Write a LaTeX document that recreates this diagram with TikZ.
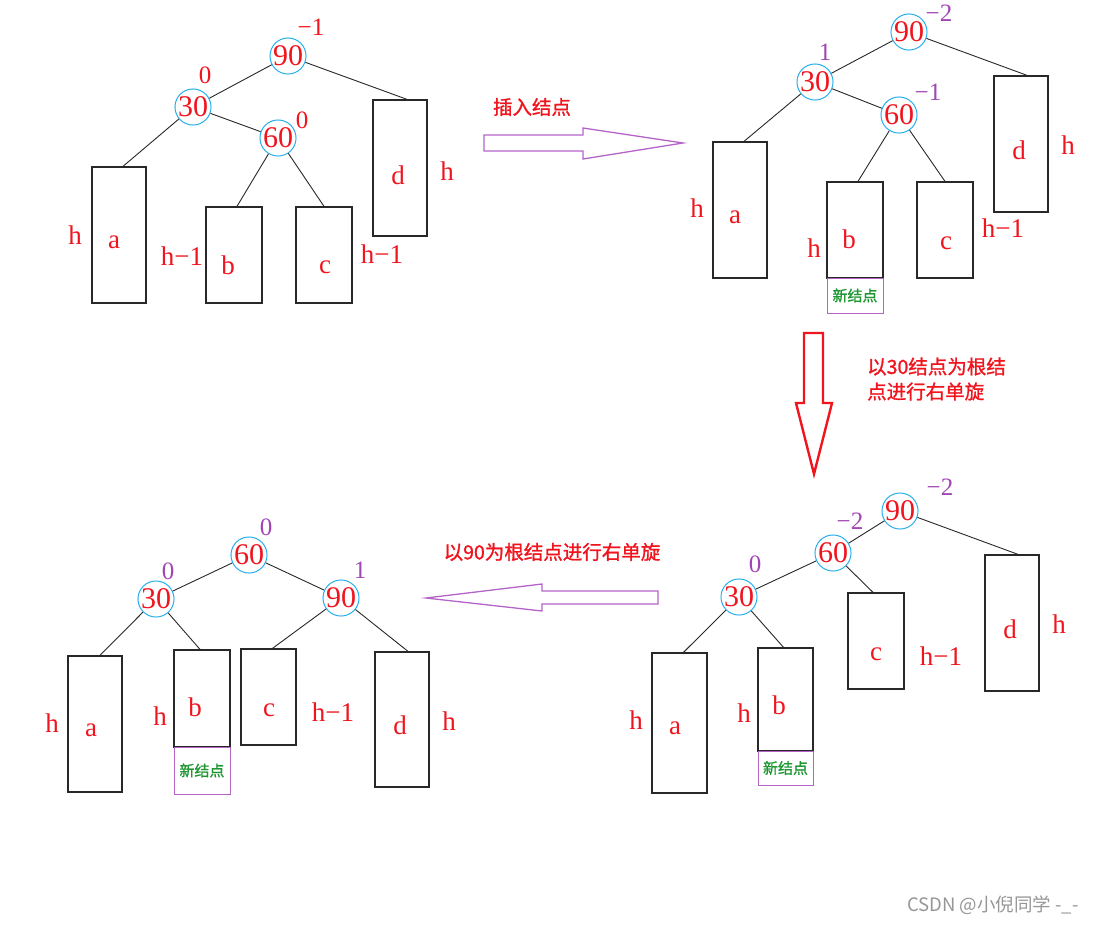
\documentclass[tikz,border=0pt]{standalone}
\usepackage{fontspec}
\setmainfont{Liberation Serif}
\newfontfamily\cjk{Noto Sans CJK SC}
\newfontfamily\cjkb[FakeBold=1.2]{Noto Sans CJK SC}
\definecolor{redc}{RGB}{240,20,30}
\definecolor{cyanc}{RGB}{40,175,235}
\definecolor{purpc}{RGB}{180,100,200}
\definecolor{bfc}{RGB}{160,70,180}
\definecolor{greenc}{RGB}{30,150,50}
\definecolor{boxc}{RGB}{40,40,40}
\definecolor{wmc}{RGB}{150,150,150}
\begin{document}
\begin{tikzpicture}[x=1pt,y=-1pt,
  cnode/.style={circle, draw=cyanc, line width=1pt, minimum size=35pt, inner sep=0pt, text=redc, font=\fontsize{30}{30}\selectfont},
  tbox/.style={draw=boxc, line width=1.3pt, inner sep=0pt},
  newbox/.style={draw=purpc, line width=1pt, inner sep=0pt, text=greenc, font=\cjkb\fontsize{15}{15}\selectfont},
  lbl/.style={text=redc, font=\fontsize{27}{27}\selectfont, inner sep=0pt},
  bf/.style={text=bfc, font=\fontsize{25}{25}\selectfont, inner sep=0pt},
  bfr/.style={text=redc, font=\fontsize{25}{25}\selectfont, inner sep=0pt},
  edge/.style={draw=boxc, line width=0.9pt},
  note/.style={text=redc, font=\cjkb\fontsize{19.5}{25}\selectfont, inner sep=0pt, align=left},
  purparrow/.style={draw=purpc, line width=1.3pt, line join=miter},
  redarrow/.style={draw=redc, line width=2.4pt, line join=miter}
]
\useasboundingbox (0,0) rectangle (1098,924);

% ---------- Panel 1 (top left) ----------
\node[cnode] (p1n90) at (288,56) {90};
\node[cnode] (p1n30) at (193,107) {30};
\node[cnode] (p1n60) at (278,138) {60};
\node[tbox, minimum width=54, minimum height=136] (p1a) at (119,235) {};
\node[tbox, minimum width=56, minimum height=96] (p1b) at (234,255) {};
\node[tbox, minimum width=56, minimum height=96] (p1c) at (324,255) {};
\node[tbox, minimum width=54, minimum height=136] (p1d) at (400,168) {};
\draw[edge] (p1n90) -- (p1n30);
\draw[edge] (p1n30) -- (p1n60);
\draw[edge] (p1n90) -- ([xshift=7]p1d.north);
\draw[edge] (p1n30) -- ([xshift=4]p1a.north);
\draw[edge] (p1n60) -- ([xshift=3]p1b.north);
\draw[edge] (p1n60) -- (p1c.north);
\node[bfr] (p1f90) at (311,27) {−1};
\node[bfr] (p1f30) at (205,75) {0};
\node[bfr] (p1f60) at (302,120) {0};
\node[lbl] (p1ha) at (75,235) {h};
\node[lbl] (p1la) at (114,242) {a};
\node[lbl] (p1hb) at (182,256) {h−1};
\node[lbl] (p1lb) at (228,265) {b};
\node[lbl] (p1lc) at (325,267) {c};
\node[lbl] (p1hc) at (382,254) {h−1};
\node[lbl] (p1ld) at (398,175) {d};
\node[lbl] (p1hd) at (447,171) {h};

% ---------- Arrow 1 ----------
\node[note] (t1) at (532,107) {插入结点};
\draw[purparrow] (484,135) -- (583,135) -- (583,128) -- (683,143) -- (583,159) -- (583,151) -- (484,151) -- cycle;

% ---------- Panel 2 (top right) ----------
\node[cnode] (p2n90) at (909,32) {90};
\node[cnode] (p2n30) at (815,82) {30};
\node[cnode] (p2n60) at (899,115) {60};
\node[tbox, minimum width=54, minimum height=136] (p2a) at (740,210) {};
\node[tbox, minimum width=56, minimum height=96] (p2b) at (855,230) {};
\node[newbox, minimum width=56, minimum height=35] (p2nb) at (855,295.5) {新结点};
\node[tbox, minimum width=56, minimum height=96] (p2c) at (945,230) {};
\node[tbox, minimum width=54, minimum height=136] (p2d) at (1021,144) {};
\draw[edge] (p2n90) -- (p2n30);
\draw[edge] (p2n30) -- (p2n60);
\draw[edge] (p2n90) -- ([xshift=6]p2d.north);
\draw[edge] (p2n30) -- ([xshift=4]p2a.north);
\draw[edge] (p2n60) -- ([xshift=3]p2b.north);
\draw[edge] (p2n60) -- (p2c.north);
\node[bf] (p2f90) at (939,13) {−2};
\node[bf] (p2f30) at (825,52) {1};
\node[bf] (p2f60) at (928,92) {−1};
\node[lbl] (p2ha) at (697,208) {h};
\node[lbl] (p2la) at (735,217) {a};
\node[lbl] (p2hb) at (814,248) {h};
\node[lbl] (p2lb) at (849,239) {b};
\node[lbl] (p2lc) at (946,243) {c};
\node[lbl] (p2hc) at (1003,228) {h−1};
\node[lbl] (p2ld) at (1019,150) {d};
\node[lbl] (p2hd) at (1068,145) {h};

% ---------- Arrow 2 (red, down) ----------
\draw[redarrow] (804,333) -- (823,333) -- (823,403) -- (832,403) -- (814,474) -- (796,403) -- (804,403) -- cycle;
\node[note, anchor=west] (t2) at (867,379) {以30结点为根结\\点进行右单旋};

% ---------- Panel 3 (bottom right) ----------
\node[cnode] (p3n90) at (900,511) {90};
\node[cnode] (p3n60) at (833,553) {60};
\node[cnode] (p3n30) at (739,597) {30};
\node[tbox, minimum width=55, minimum height=140] (p3a) at (679.5,723) {};
\node[tbox, minimum width=55, minimum height=103] (p3b) at (785.5,699.5) {};
\node[newbox, minimum width=55, minimum height=34] (p3nb) at (785.5,768) {新结点};
\node[tbox, minimum width=56, minimum height=96] (p3c) at (876,641) {};
\node[tbox, minimum width=54, minimum height=136] (p3d) at (1012,623) {};
\draw[edge] (p3n90) -- (p3n60);
\draw[edge] (p3n60) -- (p3n30);
\draw[edge] (p3n90) -- ([xshift=6]p3d.north);
\draw[edge] (p3n60) -- ([xshift=-3]p3c.north);
\draw[edge] (p3n30) -- ([xshift=4]p3a.north);
\draw[edge] (p3n30) -- ([xshift=-2]p3b.north);
\node[bf] (p3f90) at (940,487) {−2};
\node[bf] (p3f60) at (850,521) {−2};
\node[bf] (p3f30) at (755,564) {0};
\node[lbl] (p3ha) at (636,720) {h};
\node[lbl] (p3la) at (675,728) {a};
\node[lbl] (p3hb) at (744,713) {h};
\node[lbl] (p3lb) at (779,705) {b};
\node[lbl] (p3lc) at (876,654) {c};
\node[lbl] (p3hc) at (941,656) {h−1};
\node[lbl] (p3ld) at (1010,629) {d};
\node[lbl] (p3hd) at (1059,624) {h};

% ---------- Arrow 3 (left) ----------
\node[note] (t3) at (552,552) {以90为根结点进行右单旋};
\draw[purparrow] (658,591) -- (542,591) -- (542,584) -- (426,598) -- (542,611) -- (542,604) -- (658,604) -- cycle;

% ---------- Panel 4 (bottom left) ----------
\node[cnode] (p4n60) at (249,555) {60};
\node[cnode] (p4n30) at (156,599) {30};
\node[cnode] (p4n90) at (341,598) {90};
\node[tbox, minimum width=54, minimum height=136] (p4a) at (95,724) {};
\node[tbox, minimum width=56, minimum height=97] (p4b) at (202,698.5) {};
\node[newbox, minimum width=56, minimum height=47] (p4nb) at (202,770.5) {新结点};
\node[tbox, minimum width=55, minimum height=96] (p4c) at (268.5,697) {};
\node[tbox, minimum width=54, minimum height=135] (p4d) at (402,719.5) {};
\draw[edge] (p4n60) -- (p4n30);
\draw[edge] (p4n60) -- (p4n90);
\draw[edge] (p4n30) -- ([xshift=5]p4a.north);
\draw[edge] (p4n30) -- ([xshift=-2]p4b.north);
\draw[edge] (p4n90) -- ([xshift=4]p4c.north);
\draw[edge] (p4n90) -- ([xshift=6]p4d.north);
\node[bf] (p4f60) at (266,527) {0};
\node[bf] (p4f30) at (168,571) {0};
\node[bf] (p4f90) at (360,570) {1};
\node[lbl] (p4ha) at (52,723) {h};
\node[lbl] (p4la) at (91,730) {a};
\node[lbl] (p4hb) at (160,716) {h};
\node[lbl] (p4lb) at (195,707) {b};
\node[lbl] (p4lc) at (269,710) {c};
\node[lbl] (p4hc) at (333,712) {h−1};
\node[lbl] (p4ld) at (400,725) {d};
\node[lbl] (p4hd) at (449,721) {h};

% ---------- Watermark ----------
\node[text=wmc, font=\cjk\fontsize{18.5}{18.5}\selectfont, inner sep=0pt] (wm) at (993,905) {CSDN @小倪同学 -\_-};
\end{tikzpicture}
\end{document}
